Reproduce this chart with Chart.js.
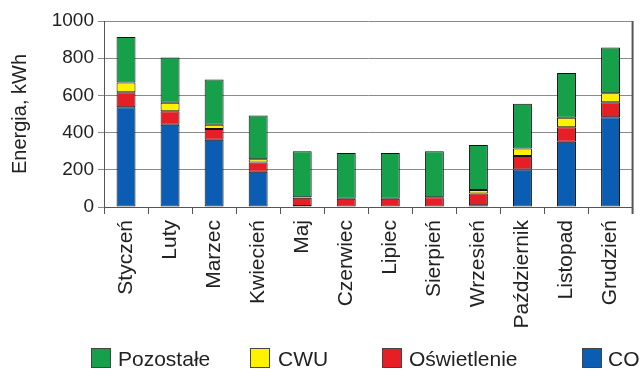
<!DOCTYPE html>
<html lang="pl">
<head>
<meta charset="utf-8">
<script src="https://cdn.jsdelivr.net/npm/chart.js@4"></script>
<style>
  body { margin: 0; background: #fff; }
  #wrap { position: relative; width: 642px; height: 374px; font-family: "Liberation Sans", Arial, sans-serif; color: #222; }
  .sw { position: absolute; top: 348px; width: 18px; height: 18px; border: 1px solid #444; }
  .lt { position: absolute; top: 348px; font-size: 21px; line-height: 21px; white-space: nowrap; }
</style>
</head>
<body>
<div id="wrap">
  <canvas id="energyChart" width="642" height="374"></canvas>
  <div class="sw" style="left:91px;background:#16a04a"></div><div class="lt" style="left:118px">Pozostałe</div>
  <div class="sw" style="left:250px;background:#fff200"></div><div class="lt" style="left:278px">CWU</div>
  <div class="sw" style="left:382px;background:#e61e25"></div><div class="lt" style="left:409px">Oświetlenie</div>
  <div class="sw" style="left:582px;background:#0b5db3"></div><div class="lt" style="left:608px">CO</div>
</div>
<script>
const months = ['Styczeń', 'Luty', 'Marzec', 'Kwiecień', 'Maj', 'Czerwiec', 'Lipiec', 'Sierpień', 'Wrzesień', 'Październik', 'Listopad', 'Grudzień'];
const co = [536, 442, 362, 189, 5, 0, 0, 0, 10, 202, 351, 483];
const oswietlenie = [81, 73, 57, 50, 45, 44, 44, 53, 63, 72, 78, 80];
const cwu = [53, 45, 23, 18, 2, 0, 0, 0, 18, 40, 51, 48];
const pozostale = [244, 244, 244, 235, 248, 246, 246, 247, 242, 241, 240, 246];
const yTicks = [0, 200, 400, 600, 800, 1000];

const font = 'Liberation Sans, Arial, sans-serif';

// ramka z prawej strony wykresu
const rightBorder = {
    id: 'rightBorder',
    afterDraw(chart) {
        const { ctx, chartArea } = chart;
        ctx.save();
        ctx.strokeStyle = '#555';
        ctx.lineWidth = 2;
        ctx.beginPath();
        ctx.moveTo(chartArea.right, chartArea.top);
        ctx.lineTo(chartArea.right, chartArea.bottom + 7);
        ctx.stroke();
        ctx.restore();
    }
};

function series(label, data, color) {
    return {
        label: label,
        data: data,
        backgroundColor: color,
        borderColor: '#111',
        borderWidth: 1,
        borderSkipped: false,
        barPercentage: 0.43,
        categoryPercentage: 1
    };
}

new Chart(document.getElementById('energyChart').getContext('2d'), {
    type: 'bar',
    data: {
        labels: months,
        datasets: [
            series('CO', co, '#0b5db3'),
            series('Oświetlenie', oswietlenie, '#e61e25'),
            series('CWU', cwu, '#fff200'),
            series('Pozostałe', pozostale, '#16a04a')
        ]
    },
    options: {
        responsive: false,
        animation: false,
        layout: { padding: { top: 21, right: 6, left: 0, bottom: 0 } },
        plugins: { legend: { display: false }, tooltip: { enabled: false } },
        scales: {
            x: {
                stacked: true,
                afterFit: s => { s.height = 167; },
                grid: { offset: true, drawOnChartArea: false, color: '#555', tickLength: 7 },
                border: { color: '#555' },
                ticks: { minRotation: 90, maxRotation: 90, padding: 6, color: '#222', font: { family: font, size: 21 } }
            },
            y: {
                stacked: true,
                min: 0,
                max: 1000,
                afterFit: s => { s.width = 104; },
                afterBuildTicks: s => { s.ticks = yTicks.map(v => ({ value: v })); },
                grid: { color: '#8a8a8a', tickLength: 6 },
                border: { color: '#555' },
                ticks: { padding: 4, color: '#222', font: { family: font, size: 19 }, callback: v => String(v) },
                title: { display: true, text: 'Energia, kWh', color: '#222', padding: { top: 8, bottom: 0 }, font: { family: font, size: 20 } }
            }
        }
    },
    plugins: [rightBorder]
});
</script>
</body>
</html>
